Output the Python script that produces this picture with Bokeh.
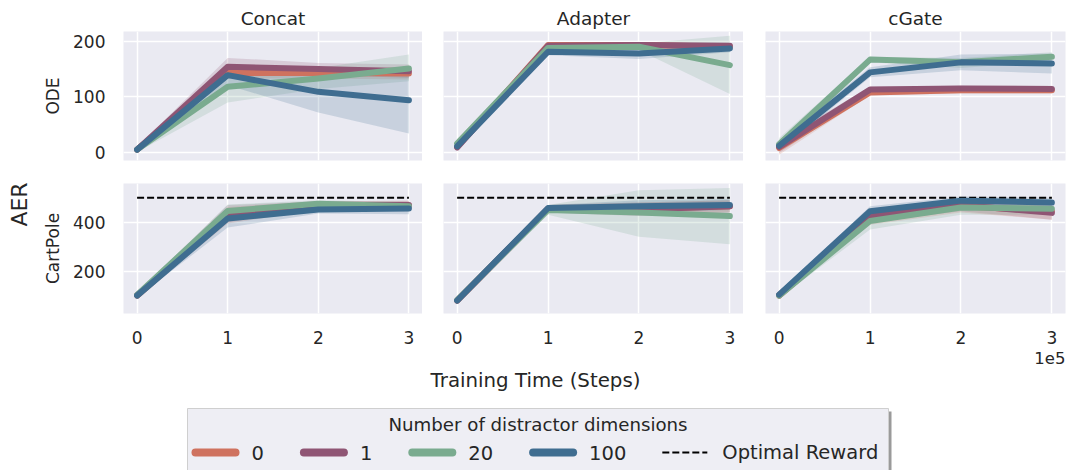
import numpy as np
from bokeh.plotting import figure
from bokeh.layouts import row, column
from bokeh.models import Range1d, FixedTicker, Grid
from bokeh.embed import file_html
from bokeh.resources import INLINE
from bokeh.core.properties import value

# ---------------- data ----------------
STEPS = [0, 100000, 200000, 300000]
X_TICK_LABELS = ["0", "1", "2", "3"]
OFFSET_TEXT = "1e5"
SERIES = ["0", "1", "20", "100"]
COLORS = ["#cf725f", "#8f5574", "#7aab8f", "#3f6d90"]
METHODS = ["Concat", "Adapter", "cGate"]
ENVS = ["ODE", "CartPole"]
OPTIMAL_REWARD = 500
ODE_TICKS = [0, 100, 200]
CARTPOLE_TICKS = [200, 400]
Y_LABEL = "AER"
X_LABEL = "Training Time (Steps)"
LEGEND_TITLE = "Number of distractor dimensions"
OPTIMAL_LABEL = "Optimal Reward"

concat_ode_mean = {"0": [5, 143, 143, 142], "1": [5, 154, 150, 146], "20": [5, 118, 133, 151], "100": [5, 139, 109, 94]}
concat_ode_lo = {"0": [1, 133, 133, 131], "1": [1, 140, 140, 134], "20": [1, 90, 114, 128], "100": [1, 121, 72, 34]}
concat_ode_hi = {"0": [9, 153, 153, 153], "1": [10, 170, 161, 158], "20": [9, 148, 152, 176], "100": [9, 156, 142, 142]}

adapter_ode_mean = {"0": [10, 193, 193, 190], "1": [9, 192, 193, 192], "20": [16, 188, 190, 157], "100": [11, 181, 178, 187]}
adapter_ode_lo = {"0": [3, 189, 189, 185], "1": [2, 188, 188, 187], "20": [8, 183, 184, 105], "100": [4, 175, 168, 180]}
adapter_ode_hi = {"0": [17, 197, 197, 195], "1": [16, 196, 198, 197], "20": [24, 193, 196, 210], "100": [18, 186, 186, 194]}

cgate_ode_mean = {"0": [8, 108, 112, 112], "1": [10, 113, 115, 114], "20": [15, 167, 162, 172], "100": [12, 144, 162, 160]}
cgate_ode_lo = {"0": [-4, 103, 106, 106], "1": [-1, 108, 110, 108], "20": [5, 162, 152, 164], "100": [3, 135, 148, 142]}
cgate_ode_hi = {"0": [20, 113, 118, 118], "1": [22, 118, 120, 120], "20": [26, 172, 170, 180], "100": [22, 153, 176, 178]}

concat_cp_mean = {"0": [100, 425, 468, 468], "1": [102, 428, 470, 470], "20": [103, 446, 475, 465], "100": [100, 415, 452, 456]}
concat_cp_lo = {"0": [90, 395, 450, 445], "1": [92, 400, 455, 450], "20": [95, 420, 460, 450], "100": [92, 378, 435, 432]}
concat_cp_hi = {"0": [110, 462, 485, 488], "1": [112, 470, 485, 488], "20": [110, 472, 490, 482], "100": [108, 445, 466, 472]}

adapter_cp_mean = {"0": [80, 455, 455, 465], "1": [80, 455, 452, 465], "20": [82, 450, 440, 425], "100": [80, 458, 465, 470]}
adapter_cp_lo = {"0": [68, 440, 430, 440], "1": [68, 440, 425, 440], "20": [70, 430, 340, 310], "100": [70, 445, 440, 450]}
adapter_cp_hi = {"0": [92, 470, 480, 490], "1": [92, 470, 480, 490], "20": [95, 470, 530, 540], "100": [90, 470, 490, 495]}

cgate_cp_mean = {"0": [100, 418, 465, 445], "1": [102, 425, 470, 438], "20": [100, 405, 460, 455], "100": [104, 445, 488, 480]}
cgate_cp_lo = {"0": [90, 390, 440, 410], "1": [92, 400, 445, 410], "20": [90, 370, 430, 430], "100": [95, 425, 470, 460]}
cgate_cp_hi = {"0": [110, 445, 490, 475], "1": [112, 450, 490, 465], "20": [110, 435, 485, 480], "100": [115, 465, 505, 500]}

PANELS = {
    ("ODE", "Concat"): (concat_ode_mean, concat_ode_lo, concat_ode_hi),
    ("ODE", "Adapter"): (adapter_ode_mean, adapter_ode_lo, adapter_ode_hi),
    ("ODE", "cGate"): (cgate_ode_mean, cgate_ode_lo, cgate_ode_hi),
    ("CartPole", "Concat"): (concat_cp_mean, concat_cp_lo, concat_cp_hi),
    ("CartPole", "Adapter"): (adapter_cp_mean, adapter_cp_lo, adapter_cp_hi),
    ("CartPole", "cGate"): (cgate_cp_mean, cgate_cp_lo, cgate_cp_hi),
}

# ---------------- style ----------------
FONT = "DejaVu Sans"
TXT = "#262626"
BG = "#eaeaf2"
X_RANGE = (-15000, 315000)
Y_RANGES = [(-14.5, 217.5), (27, 558)]
Y_TICKS = [ODE_TICKS, CARTPOLE_TICKS]

TICK_FS = "17px"
AER_W = 40
COL_MB_LEFT = [121 - AER_W, 21, 22]
COL_FW = [301, 300, 300]
TOP_MB = (31, 129, 23)
BOT_MB = (0, 130, 35)


def make_panel(r, c):
    env, method = ENVS[r], METHODS[c]
    top = r == 0
    left = c == 0
    mbt, fh, mbb = TOP_MB if top else BOT_MB
    mbl = COL_MB_LEFT[c]
    mbr = 5 if c == 2 else 0
    w = mbl + COL_FW[c] + mbr
    h = mbt + fh + mbb
    p = figure(width=w, height=h, output_backend="svg", toolbar_location=None,
               title=method if top else None,
               x_range=Range1d(*X_RANGE), y_range=Range1d(*Y_RANGES[r]),
               x_axis_location=None if top else "below",
               y_axis_location="left" if left else None,
               min_border_left=mbl, min_border_right=mbr,
               min_border_top=mbt, min_border_bottom=mbb)
    p.background_fill_color = BG
    p.border_fill_color = "white"
    p.outline_line_color = None
    for g in list(p.xgrid) + list(p.ygrid):
        g.visible = False
    p.add_layout(Grid(dimension=0, ticker=FixedTicker(ticks=STEPS),
                      grid_line_color="white", grid_line_width=1.5))
    p.add_layout(Grid(dimension=1, ticker=FixedTicker(ticks=Y_TICKS[r]),
                      grid_line_color="white", grid_line_width=1.5))
    if top:
        p.title.align = "center"
        p.title.text_font = FONT
        p.title.text_font_size = "18.5px"
        p.title.text_font_style = "normal"
        p.title.text_color = TXT
        p.title.standoff = 6
    for ax in list(p.xaxis) + list(p.yaxis):
        ax.axis_line_color = None
        ax.major_tick_line_color = None
        ax.minor_tick_line_color = None
        ax.major_label_text_font = FONT
        ax.major_label_text_font_size = TICK_FS
        ax.major_label_text_color = TXT
    if not top:
        p.xaxis.ticker = FixedTicker(ticks=STEPS)
        p.xaxis.major_label_overrides = {s: t for s, t in zip(STEPS, X_TICK_LABELS)}
        p.xaxis.major_label_standoff = 11
    if left:
        p.yaxis.ticker = FixedTicker(ticks=Y_TICKS[r])
        p.yaxis.major_label_standoff = 12
        p.yaxis.axis_label = env
        p.yaxis.axis_label_text_font = FONT
        p.yaxis.axis_label_text_font_size = "17px"
        p.yaxis.axis_label_text_font_style = "normal"
        p.yaxis.axis_label_text_color = TXT
        p.yaxis.axis_label_standoff = 7

    mean, lo, hi = PANELS[(env, method)]
    for s, col in zip(SERIES, COLORS):
        p.varea(x=STEPS, y1=lo[s], y2=hi[s], fill_color=col, fill_alpha=0.2)
    if env == "CartPole":
        p.line(x=[STEPS[0], STEPS[-1]], y=[OPTIMAL_REWARD, OPTIMAL_REWARD],
               line_color="black", line_width=2, line_dash="7 3")
    for s, col in zip(SERIES, COLORS):
        p.line(x=STEPS, y=mean[s], line_color=col, line_width=6,
               line_cap="round", line_join="round")
    return p


top_row = row(*[make_panel(0, c) for c in range(3)])
bot_row = row(*[make_panel(1, c) for c in range(3)])

GRID_H = sum(TOP_MB) + sum(BOT_MB)

# left label figure
aer = figure(width=AER_W, height=GRID_H, output_backend="svg", toolbar_location=None,
             title=None, x_range=Range1d(0, AER_W), y_range=Range1d(0, GRID_H),
             x_axis_location=None, y_axis_location=None, min_border=0)
aer.outline_line_color = None
aer.background_fill_color = "white"
aer.border_fill_color = "white"
aer.grid.visible = False
aer.text(x=[19], y=[GRID_H - 204], text=[Y_LABEL], angle=np.pi / 2,
         text_align="center", text_baseline="middle",
         text_font=value(FONT), text_font_size="22px", text_color=TXT)

# bottom annotations figure (x label, offset text, legend)
W = 1070
BH = 470 - GRID_H
bot = figure(width=W, height=BH, output_backend="svg", toolbar_location=None,
             title=None, x_range=Range1d(0, W), y_range=Range1d(0, BH),
             x_axis_location=None, y_axis_location=None, min_border=0)
bot.outline_line_color = None
bot.background_fill_color = "white"
bot.border_fill_color = "white"
bot.grid.visible = False


def yb(abs_y):
    return 470 - abs_y


bot.text(x=[1065], y=[yb(357)], text=[OFFSET_TEXT], text_align="right", text_baseline="middle",
         text_font=value(FONT), text_font_size="16.5px", text_color=TXT)
bot.text(x=[535], y=[yb(380)], text=[X_LABEL], text_align="center", text_baseline="middle",
         text_font=value(FONT), text_font_size="19.8px", text_color=TXT)

# legend box
LX0, LX1, LTOP = 187, 888, 408
bot.quad(left=[LX0 + 3], right=[LX1 + 3], top=[yb(LTOP + 3)], bottom=[-10],
         fill_color="#9a9a9a", line_color=None)
bot.quad(left=[LX0], right=[LX1], top=[yb(LTOP)], bottom=[-10],
         fill_color="#eeeef4", line_color="#cfcfcf", line_width=1)
bot.text(x=[(LX0 + LX1) / 2], y=[yb(424)], text=[LEGEND_TITLE], text_align="center",
         text_baseline="middle", text_font=value(FONT), text_font_size="18.2px", text_color=TXT)

LEG_FS = 19.5
HANDLE = 48
PAD = 12
COLSP = 36
item_y = yb(452)
x = 191
items = [(s, c, False) for s, c in zip(SERIES, COLORS)] + [(OPTIMAL_LABEL, "black", True)]
for label, col, dashed in items:
    if dashed:
        bot.line(x=[x, x + 45], y=[item_y, item_y], line_color="black", line_width=2,
                 line_dash="7 3")
    else:
        bot.line(x=[x + 4, x + HANDLE - 4], y=[item_y, item_y], line_color=col, line_width=8,
                 line_cap="round")
    bot.text(x=[x + HANDLE + PAD], y=[item_y], text=[label], text_align="left",
             text_baseline="middle", text_font=value(FONT), text_font_size=f"{LEG_FS}px",
             text_color=TXT)
    x += HANDLE + PAD + len(label) * 0.636 * LEG_FS + COLSP

layout = column(row(aer, column(top_row, bot_row)), bot)

open("out.html", "w").write(file_html(layout, INLINE))
